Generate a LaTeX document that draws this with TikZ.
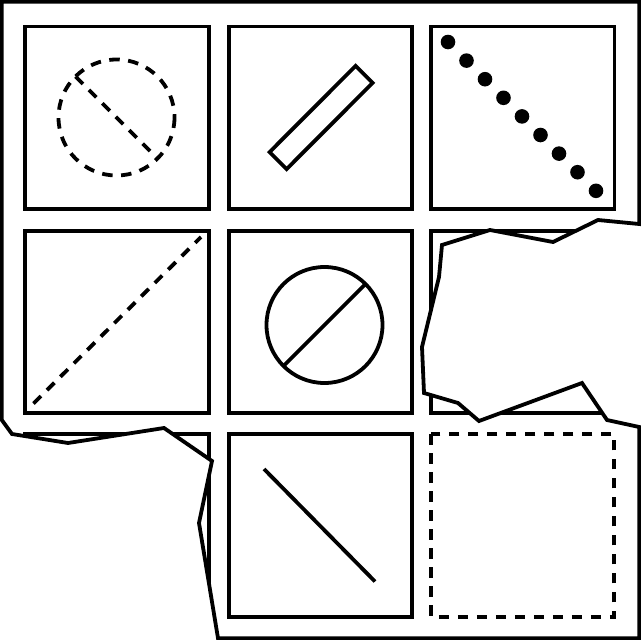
\documentclass[tikz,border=0pt]{standalone}
\begin{document}
\begin{tikzpicture}[x=1pt,y=-1pt,line join=miter,
  ln/.style={line width=3.8pt},
  dsh/.style={line width=3.8pt,dash pattern=on 10.5pt off 8.5pt},
  dotmark/.style={fill=black}]
\useasboundingbox (0,0) rectangle (641,640);
\fill[white] (0,0) rectangle (641,640);
% torn outer sheet
\def\sheet{(1.8,1.8) -- (639.2,1.8) -- (639.2,224) -- (598,220) -- (553,242) -- (490,230) -- (442,245) -- (439,277) -- (422,347) -- (424,393) -- (458,403) -- (479,421) -- (582,383) -- (607,420) -- (639.2,427) -- (639.2,638.2) -- (218,638.2) -- (199,523) -- (212,461) -- (164,428) -- (68,443) -- (12,434) -- (1.8,420) -- cycle}
% cell centres
\coordinate (c11) at (117,117.7);
\coordinate (c12) at (320.4,117.7);
\coordinate (c13) at (522.8,117.7);
\coordinate (c21) at (117,322);
\coordinate (c22) at (320.4,322);
\coordinate (c23) at (522.8,322);
\coordinate (c31) at (117,525.3);
\coordinate (c32) at (320.4,525.3);
\coordinate (c33) at (522.8,525.3);
\begin{scope}
\clip \sheet;
% cells
\foreach \c in {c11,c12,c13,c21,c22,c23,c31,c32}
  \draw[ln] ([shift={(-91.7,-91.3)}]\c) rectangle ([shift={(91.7,91.3)}]\c);
\draw[dsh] ([shift={(-91.5,-91)}]c33) rectangle ([shift={(91.5,91.5)}]c33);
% cell 1: dashed circle with dashed diameter
\draw[dsh] (116.5,117.5) circle[radius=58];
\draw[dsh] (75.5,76.5) -- (157.5,158.5);
% cell 2: slanted bar
\draw[ln] (355.6,65.9) -- (372.6,82.9) -- (286.6,169.1) -- (269.6,152.1) -- cycle;
% cell 3: row of dots
\foreach \i in {0,...,8}
  \fill[dotmark] ({448+\i*18.5},{42+\i*18.6}) circle[radius=7.3];
% cell 4: dashed diagonal
\draw[dsh] (33.5,403.5) -- (201,237);
% cell 5: circle with diameter
\draw[ln] (324.5,325) circle[radius=58];
\draw[ln] (283.5,366) -- (365.5,284);
% cell 8: diagonal
\draw[ln] (264,469) -- (375,581.5);
\end{scope}
\draw[ln] \sheet;
\end{tikzpicture}
\end{document}
